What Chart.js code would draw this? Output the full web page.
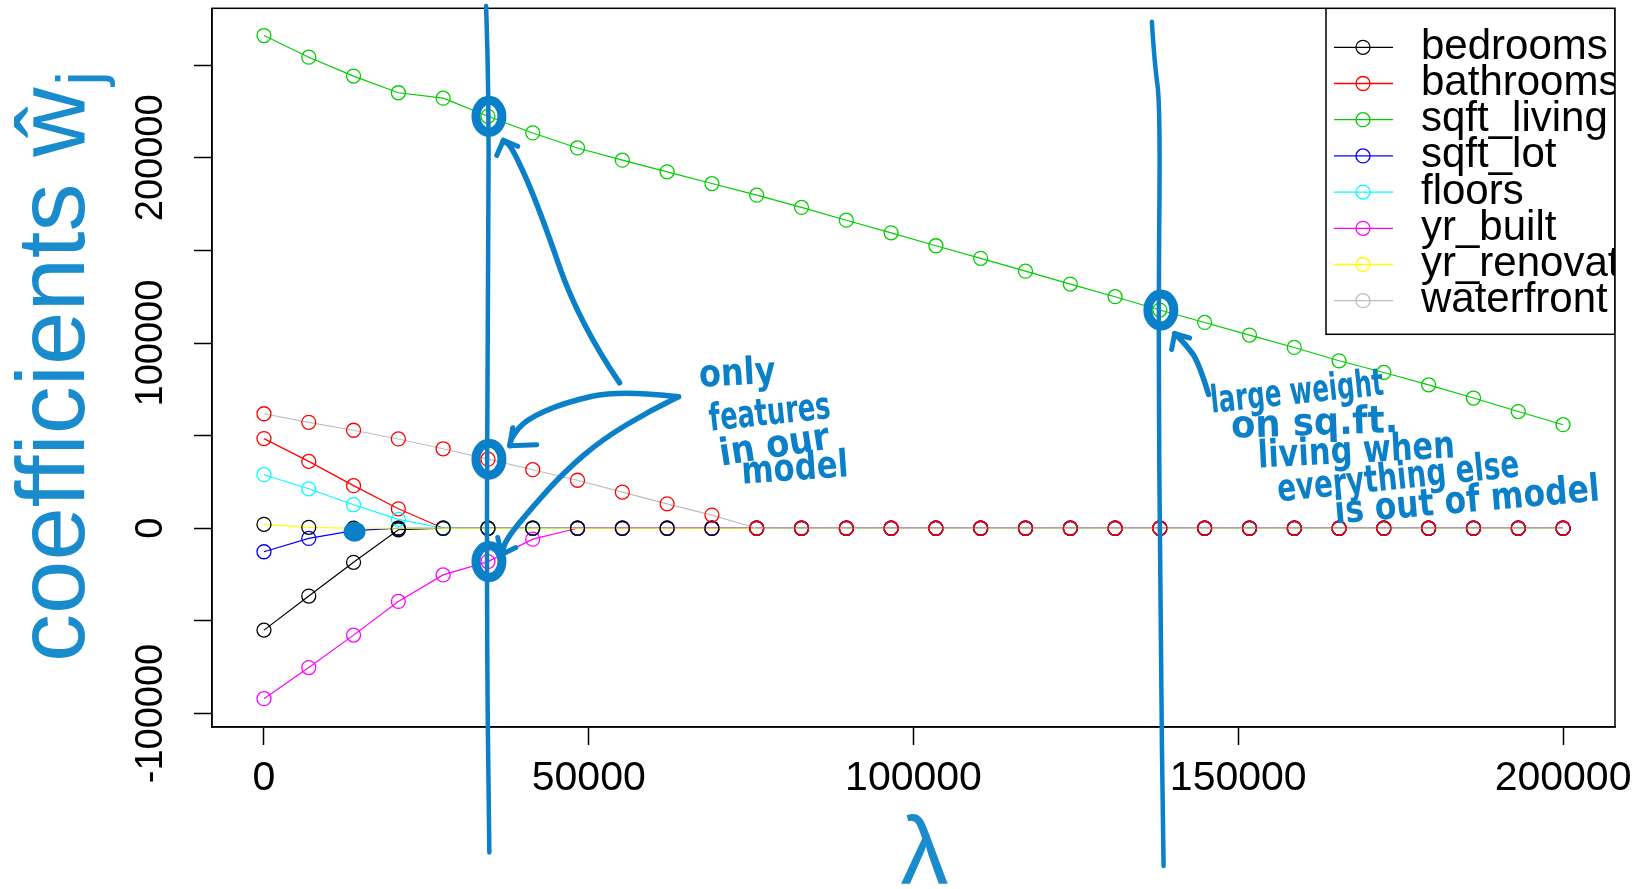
<!DOCTYPE html>
<html>
<head>
<meta charset="utf-8">
<script src="https://cdn.jsdelivr.net/npm/chart.js@4.4.0/dist/chart.umd.min.js"></script>
<style>
  html, body { margin: 0; padding: 0; background: #fff; }
  canvas { display: block; }
</style>
</head>
<body>
<canvas id="chart" width="1648" height="889"></canvas>
<script>
// lambda grid (x axis)
const lambdas = [0, 6896.6, 13793.1, 20689.7, 27586.2, 34482.8, 41379.3, 48275.9, 55172.4, 62069,
  68965.5, 75862.1, 82758.6, 89655.2, 96551.7, 103448.3, 110344.8, 117241.4, 124137.9, 131034.5,
  137931, 144827.6, 151724.1, 158620.7, 165517.2, 172413.8, 179310.3, 186206.9, 193103.4, 200000];

// coefficient paths, one per feature
const bedrooms = [-55000, -36600, -18400, -800, 0, 0, 0, 0, 0, 0, 0, 0, 0, 0, 0, 0, 0, 0, 0, 0, 0, 0, 0, 0, 0, 0, 0, 0, 0, 0];
const bathrooms = [48400, 36100, 23000, 10500, 0, 0, 0, 0, 0, 0, 0, 0, 0, 0, 0, 0, 0, 0, 0, 0, 0, 0, 0, 0, 0, 0, 0, 0, 0, 0];
const sqftLiving = [266000, 254300, 244100, 235100, 232200, 222400, 213400, 205300, 198700, 192400,
  186100, 179800, 173200, 166300, 159500, 152500, 145700, 138800, 131800, 125000,
  117800, 111100, 104300, 97600, 90400, 84100, 77400, 70300, 63000, 55900];
const sqftLot = [-12700, -5500, -1300, 0, 0, 0, 0, 0, 0, 0, 0, 0, 0, 0, 0, 0, 0, 0, 0, 0, 0, 0, 0, 0, 0, 0, 0, 0, 0, 0];
const floors = [28900, 21300, 12700, 4800, 0, 0, 0, 0, 0, 0, 0, 0, 0, 0, 0, 0, 0, 0, 0, 0, 0, 0, 0, 0, 0, 0, 0, 0, 0, 0];
const yrBuilt = [-92000, -75200, -57700, -39500, -25200, -18000, -5900, 0, 0, 0, 0, 0, 0, 0, 0, 0, 0, 0, 0, 0, 0, 0, 0, 0, 0, 0, 0, 0, 0, 0];
const yrRenovated = [2100, 500, 0, 0, 0, 0, 0, 0, 0, 0, 0, 0, 0, 0, 0, 0, 0, 0, 0, 0, 0, 0, 0, 0, 0, 0, 0, 0, 0, 0];
const waterfront = [61800, 57200, 52900, 48200, 42900, 37300, 31600, 25900, 19500, 13200, 7100, 0, 0, 0, 0, 0, 0, 0, 0, 0, 0, 0, 0, 0, 0, 0, 0, 0, 0, 0];

const seriesNames = ['bedrooms', 'bathrooms', 'sqft_living', 'sqft_lot', 'floors', 'yr_built', 'yr_renovated', 'waterfront'];
const seriesValues = [bedrooms, bathrooms, sqftLiving, sqftLot, floors, yrBuilt, yrRenovated, waterfront];

// ticks and tick labels
const xTicks = [0, 50000, 100000, 150000, 200000];
const yTicks = [-100000, -50000, 0, 50000, 100000, 150000, 200000, 250000];
const yTickLabels = [-100000, 0, 100000, 200000];

// R palette: lines use 8 colours, points recycle the first 6
const lineColors = ['#000000', '#FF0000', '#00CD00', '#0000FF', '#00FFFF', '#FF00FF', '#FFFF00', '#BEBEBE'];
const pointColors = ['#000000', '#FF0000', '#00CD00', '#0000FF', '#00FFFF', '#FF00FF'];

const inkColor = '#0b80c8';
const titleColor = '#1a8ccd';

// hand-drawn annotations, in data units [lambda, coefficient]
const inkLine1 = [[34200, 282000], [34700, 232000], [34400, 120000], [34300, -60000], [34700, -175000]];
const inkLine2 = [[136700, 273500], [137100, 250900], [138000, 228200], [137700, 115100], [138000, -54600], [138500, -182300]];
const inkRings = [[5, sqftLiving], [5, waterfront], [5, yrBuilt], [20, sqftLiving]];
const inkBlob = [2, sqftLot];
const arrowLiving = [[54750, 78500], [48520, 110700], [42300, 173500], [38230, 205800], [36860, 209400]];
const arrowLivingHead = [[35840, 201300], [36860, 209400], [39070, 206200]];
const arrowWater = [[63810, 70960], [54900, 74730], [46140, 67730], [40300, 58570], [38150, 49410], [37840, 44560]];
const arrowWaterHead = [[38300, 54260], [37840, 44560], [41990, 45100]];
const arrowBuilt = [[63810, 70960], [59670, 63960], [51980, 47800], [46140, 30020], [41380, 11690], [37230, -6100], [36610, -14170]];
const arrowBuiltHead = [[35990, -5010], [36610, -14170], [38760, -10400]];
const arrowRight = [[145430, 72240], [143890, 90020], [141900, 99180], [140210, 105100]];
const arrowRightHead = [[139740, 96480], [140210, 105100], [142510, 102700]];
const notes = [
  { text: 'only', at: [67040, 76350], w: 77, rot: -3 },
  { text: 'features', at: [68710, 52640], w: 122, rot: -6 },
  { text: 'in our', at: [70400, 33780], w: 111, rot: -9 },
  { text: 'model', at: [73630, 24080], w: 107, rot: -4 },
  { text: 'large weight', at: [145900, 62340], w: 174, rot: -6 },
  { text: 'on sq.ft.', at: [148970, 48870], w: 167, rot: -2 },
  { text: 'living when', at: [153120, 32710], w: 197, rot: -3 },
  { text: 'everything else', at: [156190, 14390], w: 243, rot: -6 },
  { text: 'is out of model', at: [164960, 2530], w: 266, rot: -5 }
];

const datasets = seriesValues.map((vals, i) => ({
  label: seriesNames[i],
  data: lambdas.map((x, k) => ({ x: x, y: vals[k] })),
  borderColor: lineColors[i],
  borderWidth: 1.2,
  pointStyle: 'circle',
  pointRadius: 7,
  pointBorderWidth: 1.3,
  pointBorderColor: pointColors[i % pointColors.length],
  pointBackgroundColor: 'rgba(0,0,0,0)',
  fill: false,
  tension: 0,
  order: seriesNames.length - i // later series on top, as in R
}));

function smoothPath(ctx, pts) {
  ctx.beginPath();
  ctx.moveTo(pts[0][0], pts[0][1]);
  for (let i = 1; i < pts.length - 1; i++) {
    const mx = (pts[i][0] + pts[i + 1][0]) / 2;
    const my = (pts[i][1] + pts[i + 1][1]) / 2;
    ctx.quadraticCurveTo(pts[i][0], pts[i][1], mx, my);
  }
  const last = pts[pts.length - 1];
  ctx.lineTo(last[0], last[1]);
  ctx.stroke();
}

// Plot box, y labels and axis titles
const framePlugin = {
  id: 'frame',
  afterDraw(chart) {
    const ctx = chart.ctx;
    const a = chart.chartArea;
    const ys = chart.scales.y;
    ctx.save();
    ctx.strokeStyle = '#000';
    ctx.lineWidth = 1.5;
    ctx.strokeRect(a.left, a.top, a.right - a.left, a.bottom - a.top);

    // rotated y tick labels
    ctx.fillStyle = '#000';
    ctx.font = '38px "Liberation Sans", Arial, sans-serif';
    ctx.textAlign = 'center';
    ctx.textBaseline = 'middle';
    ys.ticks.forEach(t => {
      if (!yTickLabels.includes(t.value)) return;
      ctx.save();
      ctx.translate(152, ys.getPixelForValue(t.value));
      ctx.rotate(-Math.PI / 2);
      ctx.fillText(String(t.value), 0, 0);
      ctx.restore();
    });

    // y title: coefficients w-hat_j
    ctx.fillStyle = titleColor;
    const mainFont = '96px "Liberation Sans", Arial, sans-serif';
    const subFont = '64px "Liberation Sans", Arial, sans-serif';
    ctx.font = mainFont;
    const mainText = 'coefficients ŵ';
    const wMain = ctx.measureText(mainText).width;
    ctx.font = subFont;
    const wSub = ctx.measureText('j').width;
    const midY = (a.top + a.bottom) / 2;
    ctx.save();
    ctx.translate(84, midY);
    ctx.rotate(-Math.PI / 2);
    ctx.textAlign = 'left';
    ctx.textBaseline = 'alphabetic';
    ctx.font = mainFont;
    ctx.fillText(mainText, -(wMain + wSub) / 2, 0);
    ctx.font = subFont;
    ctx.fillText('j', -(wMain + wSub) / 2 + wMain + 2, 18);
    ctx.restore();

    // x title
    ctx.font = '96px "Liberation Sans", Arial, sans-serif';
    ctx.textAlign = 'center';
    ctx.textBaseline = 'alphabetic';
    ctx.fillText('λ', (a.left + a.right) / 2 + 11, 884);
    ctx.restore();
  }
};

// Legend box in the top-right corner, clipped to the plot region
const legendPlugin = {
  id: 'rlegend',
  afterDatasetsDraw(chart) {
    const ctx = chart.ctx;
    const a = chart.chartArea;
    const boxW = 289, boxH = 326, rowH = 36.2, firstRow = 39;
    const bx = a.right - boxW, by = a.top;
    ctx.save();
    ctx.beginPath();
    ctx.rect(a.left, a.top, a.right - a.left, a.bottom - a.top);
    ctx.clip();
    ctx.fillStyle = '#fff';
    ctx.fillRect(bx, by, boxW, boxH);
    ctx.strokeStyle = '#000';
    ctx.lineWidth = 1.5;
    ctx.strokeRect(bx, by, boxW, boxH);
    ctx.font = '42px "Liberation Sans", Arial, sans-serif';
    ctx.textAlign = 'left';
    ctx.textBaseline = 'middle';
    chart.data.datasets.forEach((ds, i) => {
      const y = by + firstRow + i * rowH;
      ctx.strokeStyle = ds.borderColor;
      ctx.lineWidth = 1.3;
      ctx.beginPath();
      ctx.moveTo(bx + 8, y);
      ctx.lineTo(bx + 67, y);
      ctx.stroke();
      ctx.beginPath();
      ctx.arc(bx + 37, y, 7, 0, Math.PI * 2);
      ctx.stroke();
      ctx.fillStyle = '#000';
      ctx.fillText(ds.label, bx + 95, y);
    });
    ctx.restore();
  }
};

// Hand-drawn ink on top of everything
const inkPlugin = {
  id: 'ink',
  afterDraw(chart) {
    const ctx = chart.ctx;
    const xs = chart.scales.x, ys = chart.scales.y;
    const P = p => [xs.getPixelForValue(p[0]), ys.getPixelForValue(p[1])];
    ctx.save();
    ctx.strokeStyle = inkColor;
    ctx.fillStyle = inkColor;
    ctx.lineCap = 'round';
    ctx.lineJoin = 'round';

    ctx.lineWidth = 4.5;
    smoothPath(ctx, inkLine1.map(P));
    smoothPath(ctx, inkLine2.map(P));

    ctx.lineWidth = 9;
    inkRings.forEach(([k, arr]) => {
      const [cx, cy] = P([lambdas[k], arr[k]]);
      ctx.beginPath();
      ctx.ellipse(cx + 1, cy, 13, 16, 0, 0, Math.PI * 2);
      ctx.stroke();
    });

    const [bxp, byp] = P([lambdas[inkBlob[0]], inkBlob[1][inkBlob[0]]]);
    ctx.beginPath();
    ctx.ellipse(bxp + 1, byp + 1, 11, 10, 0, 0, Math.PI * 2);
    ctx.fill();

    ctx.lineWidth = 5.5;
    [arrowLiving, arrowWater, arrowBuilt, arrowRight].forEach(a => smoothPath(ctx, a.map(P)));
    ctx.lineWidth = 5;
    [arrowLivingHead, arrowWaterHead, arrowBuiltHead, arrowRightHead].forEach(h => {
      const pts = h.map(P);
      ctx.beginPath();
      ctx.moveTo(pts[0][0], pts[0][1]);
      ctx.lineTo(pts[1][0], pts[1][1]);
      ctx.lineTo(pts[2][0], pts[2][1]);
      ctx.stroke();
    });

    ctx.font = 'bold 38px "DejaVu Sans", sans-serif';
    ctx.textAlign = 'left';
    ctx.textBaseline = 'alphabetic';
    notes.forEach(n => {
      const [tx, ty] = P(n.at);
      const mw = ctx.measureText(n.text).width;
      ctx.save();
      ctx.translate(tx, ty);
      ctx.rotate(n.rot * Math.PI / 180);
      ctx.scale(n.w / mw, 1);
      ctx.fillText(n.text, 0, 0);
      ctx.restore();
    });
    ctx.restore();
  }
};

new Chart(document.getElementById('chart'), {
  type: 'line',
  data: { datasets: datasets },
  options: {
    responsive: false,
    animation: false,
    events: [],
    layout: { padding: { top: 8, right: 33, left: 0, bottom: 0 } },
    plugins: { legend: { display: false }, tooltip: { enabled: false } },
    scales: {
      x: {
        type: 'linear',
        min: -8000,
        max: 208000,
        afterFit: s => { s.height = 162; },
        afterBuildTicks: s => { s.ticks = xTicks.map(v => ({ value: v })); },
        ticks: {
          autoSkip: false,
          maxRotation: 0,
          padding: 9,
          color: '#000',
          font: { family: '"Liberation Sans", Arial, sans-serif', size: 41 },
          callback: v => String(v)
        },
        grid: { drawOnChartArea: false, tickLength: 18, tickColor: '#000', tickWidth: 1.5 },
        border: { color: '#000', width: 1.5 }
      },
      y: {
        type: 'linear',
        min: -107300,
        max: 280700,
        afterFit: s => { s.width = 212; },
        afterBuildTicks: s => { s.ticks = yTicks.map(v => ({ value: v })); },
        ticks: { display: false },
        grid: { drawOnChartArea: false, tickLength: 18, tickColor: '#000', tickWidth: 1.5 },
        border: { color: '#000', width: 1.5 }
      }
    }
  },
  plugins: [legendPlugin, framePlugin, inkPlugin]
});
</script>
</body>
</html>
